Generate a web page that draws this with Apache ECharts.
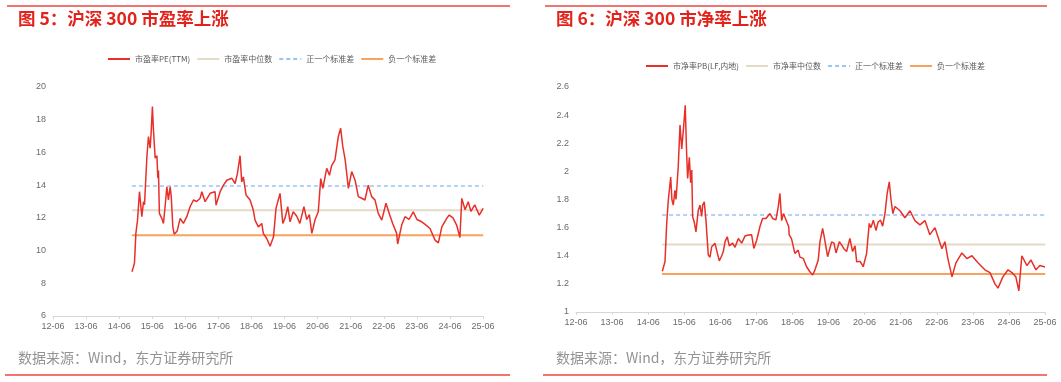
<!DOCTYPE html>
<html><head><meta charset="utf-8">
<script src="https://cdn.jsdelivr.net/npm/echarts@6/dist/echarts.min.js"></script>
<style>html,body{margin:0;padding:0;background:#fff}#c{width:1061px;height:382px}</style>
</head><body><div id="c"></div>
<script>
const xTickLabels = ['12-06','13-06','14-06','15-06','16-06','17-06','18-06','19-06','20-06','21-06','22-06','23-06','24-06','25-06'];

const peDates = ['2014-10-20','2014-11-04','2014-11-18','2014-12-03','2014-12-21','2015-01-12','2015-02-08','2015-02-26','2015-03-07','2015-04-03','2015-04-20','2015-05-08','2015-05-19','2015-06-03','2015-06-14','2015-07-03','2015-07-22','2015-08-02','2015-08-09','2015-08-19','2015-09-15','2015-10-03','2015-10-21','2015-11-10','2015-11-27','2015-12-16','2015-12-28','2016-01-15','2016-01-30','2016-03-03','2016-04-05','2016-05-10','2016-06-17','2016-07-23','2016-08-30','2016-10-05','2016-11-12','2016-12-01','2017-01-06','2017-03-01','2017-04-24','2017-05-06','2017-06-20','2017-07-26','2017-09-03','2017-10-28','2017-12-03','2017-12-28','2018-01-27','2018-02-15','2018-03-03','2018-04-02','2018-05-16','2018-06-21','2018-07-10','2018-08-16','2018-09-23','2018-10-10','2018-11-17','2018-12-24','2019-02-01','2019-02-28','2019-04-12','2019-05-12','2019-06-07','2019-07-06','2019-08-01','2019-09-06','2019-10-14','2019-11-18','2020-01-02','2020-02-03','2020-03-01','2020-03-28','2020-05-04','2020-06-08','2020-07-05','2020-07-28','2020-09-10','2020-10-10','2020-11-04','2020-12-10','2021-01-16','2021-02-12','2021-03-04','2021-04-01','2021-05-06','2021-06-12','2021-07-19','2021-08-24','2021-10-01','2021-11-06','2021-12-12','2022-01-19','2022-02-25','2022-04-01','2022-05-09','2022-06-25','2022-08-04','2022-09-08','2022-10-21','2022-11-02','2022-12-16','2023-01-22','2023-03-06','2023-04-22','2023-06-02','2023-07-24','2023-09-01','2023-10-24','2023-12-19','2024-01-25','2024-03-03','2024-04-26','2024-05-24','2024-07-04','2024-08-14','2024-09-20','2024-10-10','2024-11-16','2024-12-20','2025-01-19','2025-03-01','2025-04-20','2025-06-03'];
const peValues = [8.7,8.95,9.25,11.05,11.86,13.6,12.07,13.0,12.8,15.75,16.97,16.26,17.18,18.81,17.4,15.65,15.8,14.42,14.9,12.27,11.97,11.66,12.68,13.9,13.1,13.9,13.3,11.45,11.0,11.2,11.97,11.66,12.07,12.68,13.09,13.0,13.2,13.6,12.99,13.5,13.6,12.78,13.6,14.0,14.3,14.42,14.1,14.7,15.8,14.2,14.5,13.4,13.09,12.48,11.86,11.45,11.66,11.05,10.74,10.27,10.84,12.58,13.5,11.66,12.0,12.68,11.76,12.37,12.1,11.66,12.68,11.9,12.2,11.05,11.9,12.37,14.4,13.8,15.03,14.6,15.2,15.54,16.97,17.48,16.4,15.54,13.8,14.83,14.3,13.3,13.2,13.09,14.0,13.3,13.1,12.27,11.86,12.89,12.2,11.66,11.05,10.4,11.56,12.07,11.9,12.37,11.9,11.76,11.6,11.35,10.64,10.47,11.45,11.97,12.17,12.0,11.56,10.8,13.19,12.5,12.99,12.4,12.8,12.17,12.58];
const peMedian = 12.46, peUpper = 13.95, peLower = 10.94;

const pbDates = ['2014-10-22','2014-11-19','2014-12-06','2014-12-22','2015-01-16','2015-01-28','2015-02-12','2015-02-28','2015-03-09','2015-04-01','2015-04-19','2015-05-06','2015-05-22','2015-06-11','2015-06-25','2015-07-05','2015-07-22','2015-08-05','2015-08-16','2015-08-25','2015-09-11','2015-09-28','2015-10-21','2015-11-08','2015-11-25','2015-12-05','2015-12-21','2016-01-08','2016-02-01','2016-02-18','2016-03-05','2016-04-08','2016-05-01','2016-05-21','2016-06-15','2016-07-01','2016-07-18','2016-08-10','2016-09-01','2016-10-04','2016-10-28','2016-12-01','2017-01-04','2017-02-07','2017-03-10','2017-04-13','2017-05-06','2017-06-04','2017-07-06','2017-08-03','2017-09-07','2017-10-16','2017-11-13','2017-12-16','2018-01-09','2018-01-26','2018-02-13','2018-03-01','2018-04-24','2018-04-28','2018-05-22','2018-06-25','2018-07-28','2018-08-16','2018-09-19','2018-10-22','2018-11-25','2018-12-22','2019-01-16','2019-02-18','2019-03-05','2019-04-02','2019-04-19','2019-05-22','2019-06-08','2019-07-02','2019-07-25','2019-08-16','2019-09-19','2019-10-13','2019-11-04','2019-12-01','2020-01-04','2020-02-01','2020-02-25','2020-03-12','2020-04-16','2020-05-17','2020-06-21','2020-07-17','2020-08-04','2020-08-28','2020-09-24','2020-10-16','2020-11-10','2020-12-01','2020-12-24','2021-01-16','2021-02-07','2021-02-24','2021-03-13','2021-04-04','2021-05-24','2021-07-13','2021-09-04','2021-10-23','2021-12-13','2022-02-03','2022-03-22','2022-05-13','2022-07-22','2022-08-22','2022-09-22','2022-11-03','2022-12-12','2023-02-12','2023-04-01','2023-05-22','2023-07-22','2023-10-01','2023-11-22','2024-01-12','2024-02-12','2024-04-01','2024-05-22','2024-07-01','2024-08-10','2024-09-10','2024-10-10','2024-12-01','2025-01-10','2025-03-01','2025-04-10','2025-06-01'];
const pbValues = [1.29,1.357,1.63,1.795,1.96,1.8,1.76,1.866,1.8,2.03,2.33,2.16,2.29,2.47,2.127,1.95,2.1,1.92,2.01,1.677,1.64,1.57,1.724,1.76,1.68,1.76,1.783,1.65,1.405,1.39,1.464,1.488,1.42,1.364,1.40,1.43,1.499,1.535,1.47,1.49,1.46,1.523,1.49,1.54,1.547,1.55,1.452,1.51,1.606,1.665,1.665,1.70,1.665,1.655,1.748,1.843,1.65,1.70,1.606,1.55,1.52,1.417,1.44,1.39,1.381,1.322,1.286,1.263,1.30,1.369,1.499,1.594,1.53,1.393,1.38,1.499,1.49,1.42,1.50,1.475,1.45,1.43,1.523,1.43,1.47,1.357,1.36,1.322,1.417,1.63,1.6,1.653,1.58,1.64,1.653,1.61,1.70,1.843,1.925,1.80,1.70,1.75,1.72,1.67,1.72,1.65,1.62,1.65,1.55,1.6,1.45,1.5,1.38,1.25,1.35,1.42,1.38,1.40,1.35,1.30,1.28,1.20,1.17,1.25,1.30,1.28,1.25,1.15,1.40,1.33,1.37,1.30,1.33,1.32];
const pbMedian = 1.48, pbUpper = 1.689, pbLower = 1.27;

const bandStart = '2014-10-20', bandEnd = '2025-06-03';

function toM(s){const p=s.split('-').map(Number);return (p[0]-2012)*12+(p[1]-6)+(p[2]-1)/30;}
function pairs(d,v){return d.map((s,i)=>[toM(s),v[i]]);}
function flat(val){return [[toM(bandStart),val],[toM(bandEnd),val]];}

const RED='#e8302a', MED='#e4dac6', UP='#9cc3f5', LOW='#f7a25e';
const axisFont = {fontFamily:'Liberation Sans Narrow, Liberation Sans, Arial', fontSize:9, color:'#6b6b6b'};

function xAxis(gi){return {type:'value',gridIndex:gi,min:0,max:156,interval:12,
  axisLine:{lineStyle:{color:'#d6d6d6'}},axisTick:{show:true,length:3,lineStyle:{color:'#d6d6d6'}},
  splitLine:{show:false},axisLabel:Object.assign({margin:6,formatter:v=>xTickLabels[Math.round(v/12)]},axisFont)};}

const chart = echarts.init(document.getElementById('c'),null,{renderer:'canvas'});
const titleStyle = {fontFamily:'Noto Sans CJK SC',fontSize:17.5,fontWeight:'bold',fill:'#e3231b'};
const srcStyle = {fontFamily:'Noto Sans CJK SC',fontSize:14,fill:'#939393'};
const legendText = {fontFamily:'Noto Sans CJK SC',fontSize:8,color:'#595959'};
chart.setOption({
  animation:false,
  graphic:[
    {type:'line',shape:{x1:7,y1:6,x2:510,y2:6},style:{stroke:'#f07470',lineWidth:2}},
    {type:'line',shape:{x1:545,y1:6,x2:1047,y2:6},style:{stroke:'#f07470',lineWidth:2}},
    {type:'line',shape:{x1:5,y1:375,x2:510,y2:375},style:{stroke:'#f07470',lineWidth:2}},
    {type:'line',shape:{x1:543,y1:375,x2:1047,y2:375},style:{stroke:'#f07470',lineWidth:2}},
    {type:'text',left:18,top:10,style:Object.assign({text:'图 5：沪深 300 市盈率上涨'},titleStyle)},
    {type:'text',left:556,top:10,style:Object.assign({text:'图 6：沪深 300 市净率上涨'},titleStyle)},
    {type:'text',left:18,top:351,style:Object.assign({text:'数据来源：Wind，东方证券研究所'},srcStyle)},
    {type:'text',left:556,top:351,style:Object.assign({text:'数据来源：Wind，东方证券研究所'},srcStyle)}
  ],
  legend:[
    {data:['市盈率PE(TTM)','市盈率中位数','正一个标准差','负一个标准差'],left:102,top:50,itemWidth:22,itemHeight:8,itemGap:6,
     itemStyle:{opacity:0},textStyle:legendText},
    {data:['市净率PB(LF,内地)','市净率中位数','正一个标准差','负一个标准差'],left:640,top:57,itemWidth:22,itemHeight:8,itemGap:6,
     itemStyle:{opacity:0},textStyle:legendText}
  ],
  grid:[
    {left:53,top:87,width:430,height:229,containLabel:false},
    {left:576,top:87,width:469,height:225,containLabel:false}
  ],
  xAxis:[xAxis(0),xAxis(1)],
  yAxis:[
    {type:'value',gridIndex:0,min:6,max:20,interval:2,axisLine:{show:false},axisTick:{show:false},splitLine:{show:false},axisLabel:Object.assign({margin:7},axisFont)},
    {type:'value',gridIndex:1,min:1,max:2.6,interval:0.2,axisLine:{show:false},axisTick:{show:false},splitLine:{show:false},axisLabel:Object.assign({margin:7},axisFont)}
  ],
  series:[
    {name:'市盈率中位数',type:'line',xAxisIndex:0,yAxisIndex:0,data:flat(peMedian),symbol:'none',lineStyle:{color:MED,width:2},itemStyle:{color:MED}},
    {name:'正一个标准差',type:'line',xAxisIndex:0,yAxisIndex:0,data:flat(peUpper),symbol:'none',lineStyle:{color:UP,width:1.5,type:[4,3]},itemStyle:{color:UP}},
    {name:'负一个标准差',type:'line',xAxisIndex:0,yAxisIndex:0,data:flat(peLower),symbol:'none',lineStyle:{color:LOW,width:2},itemStyle:{color:LOW}},
    {name:'市盈率PE(TTM)',type:'line',xAxisIndex:0,yAxisIndex:0,data:pairs(peDates,peValues),symbol:'none',lineStyle:{color:RED,width:1.5},itemStyle:{color:RED},z:5},
    {name:'市净率中位数',type:'line',xAxisIndex:1,yAxisIndex:1,data:flat(pbMedian),symbol:'none',lineStyle:{color:MED,width:2},itemStyle:{color:MED}},
    {name:'正一个标准差',type:'line',xAxisIndex:1,yAxisIndex:1,data:flat(pbUpper),symbol:'none',lineStyle:{color:UP,width:1.5,type:[4,3]},itemStyle:{color:UP}},
    {name:'负一个标准差',type:'line',xAxisIndex:1,yAxisIndex:1,data:flat(pbLower),symbol:'none',lineStyle:{color:LOW,width:2},itemStyle:{color:LOW}},
    {name:'市净率PB(LF,内地)',type:'line',xAxisIndex:1,yAxisIndex:1,data:pairs(pbDates,pbValues),symbol:'none',lineStyle:{color:RED,width:1.5},itemStyle:{color:RED},z:5}
  ]
});
</script></body></html>
